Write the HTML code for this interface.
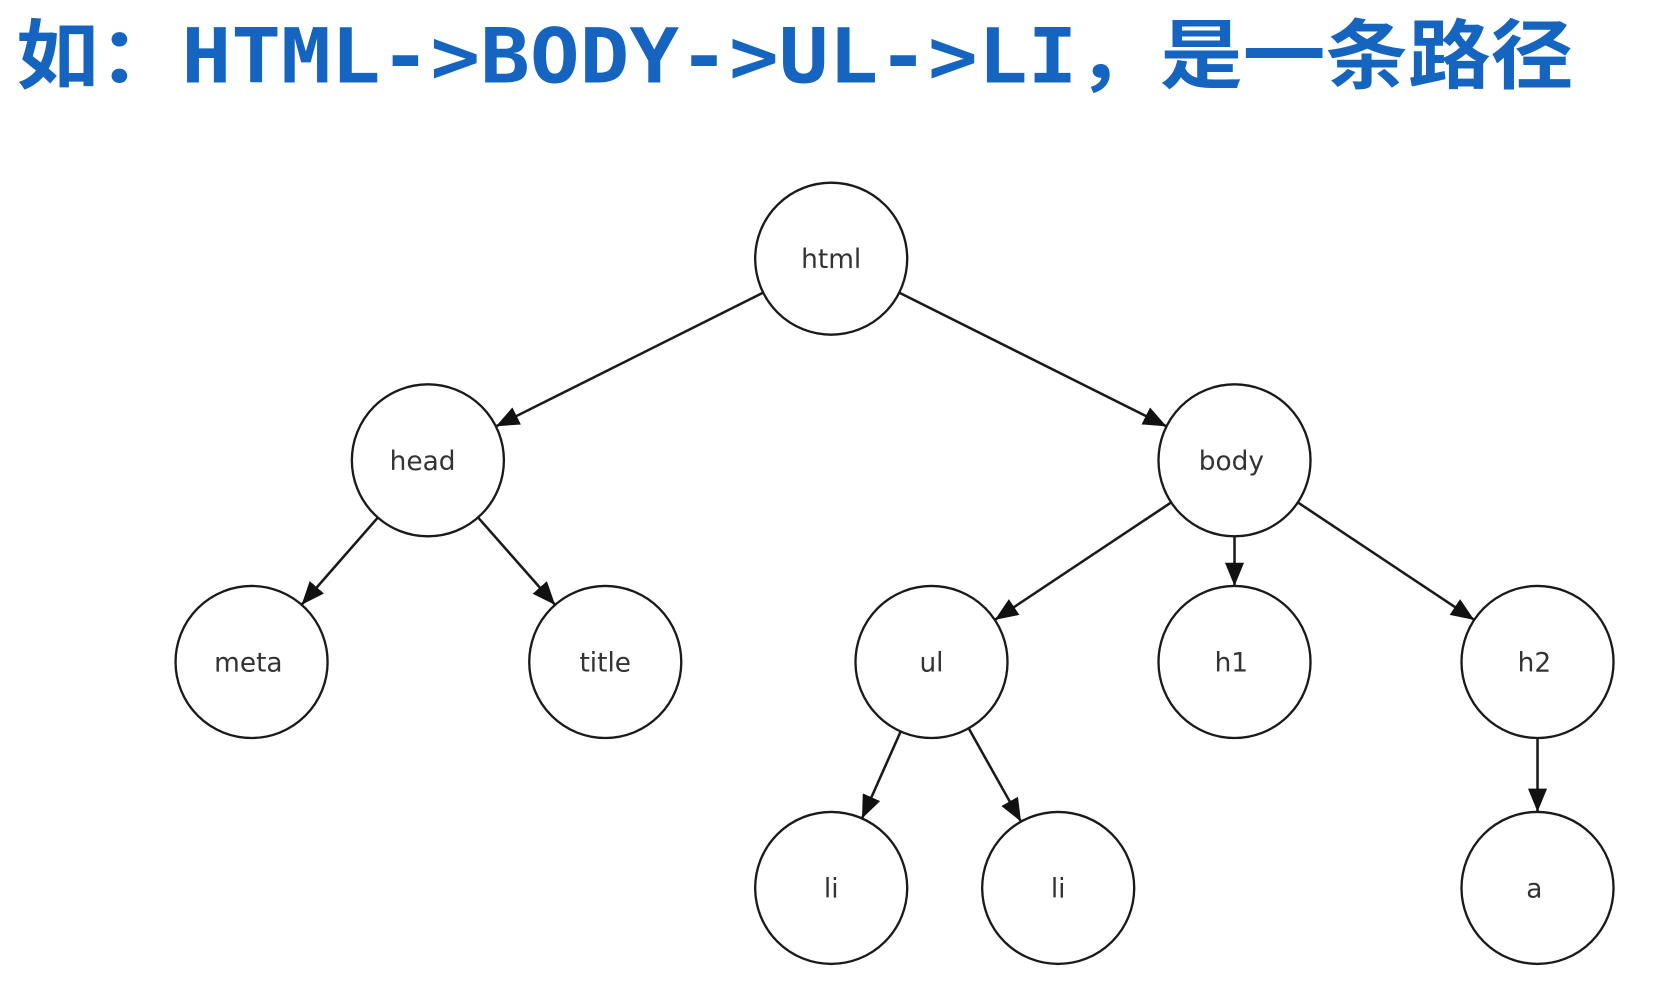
<!DOCTYPE html>
<html><head><meta charset="utf-8"><style>
html,body{margin:0;padding:0;background:#fff;}
svg{display:block;}
</style></head><body>
<svg width="1655" height="984" viewBox="0 0 1567 932" xmlns="http://www.w3.org/2000/svg">
<defs>
<marker id="ar" markerUnits="userSpaceOnUse" markerWidth="24" markerHeight="18" refX="22" refY="9" orient="auto">
<path d="M0,0 L22,9 L0,18 Z" fill="#111"/>
</marker>
</defs>
<rect width="1567" height="932" fill="#fff"/>
<text x="15" y="78" textLength="1475" lengthAdjust="spacingAndGlyphs" font-family="'DejaVu Sans Mono','Noto Sans CJK SC',monospace" font-weight="bold" font-size="72" fill="#1565c0">如：HTML-&gt;BODY-&gt;UL-&gt;LI，是一条路径</text>
<g stroke="#1a1a1a" stroke-width="2.4" fill="none" marker-end="url(#ar)">
<line x1="722.6" y1="277.2" x2="469.4" y2="403.8"/>
<line x1="851.4" y1="277.2" x2="1104.6" y2="403.8"/>
<line x1="357.6" y1="490.2" x2="285.4" y2="572.8"/>
<line x1="452.5" y1="490.1" x2="525.5" y2="572.9"/>
<line x1="1109" y1="475.9" x2="942" y2="587.1"/>
<line x1="1169" y1="508" x2="1169" y2="555"/>
<line x1="1229" y1="475.9" x2="1396" y2="587.1"/>
<line x1="852.8" y1="692.8" x2="816.2" y2="775.2"/>
<line x1="917.2" y1="689.8" x2="966.8" y2="778.2"/>
<line x1="1456" y1="699" x2="1456" y2="769"/>
</g>
<g stroke="#1a1a1a" stroke-width="2.2" fill="#fff">
<circle cx="787" cy="245" r="72"/>
<circle cx="405" cy="436" r="72"/>
<circle cx="1169" cy="436" r="72"/>
<circle cx="238" cy="627" r="72"/>
<circle cx="573" cy="627" r="72"/>
<circle cx="882" cy="627" r="72"/>
<circle cx="1169" cy="627" r="72"/>
<circle cx="1456" cy="627" r="72"/>
<circle cx="787" cy="841" r="72"/>
<circle cx="1002" cy="841" r="72"/>
<circle cx="1456" cy="841" r="72"/>
</g>
<g font-family="'DejaVu Sans','Liberation Sans',sans-serif" font-size="25" fill="#333" text-anchor="middle">
<text x="787" y="254">html</text>
<text x="400" y="445">head</text>
<text x="1166" y="445">body</text>
<text x="235" y="636">meta</text>
<text x="573" y="636">title</text>
<text x="882" y="636">ul</text>
<text x="1166" y="636">h1</text>
<text x="1453" y="636">h2</text>
<text x="787" y="850">li</text>
<text x="1002" y="850">li</text>
<text x="1453" y="850">a</text>
</g>
</svg>
</body></html>
